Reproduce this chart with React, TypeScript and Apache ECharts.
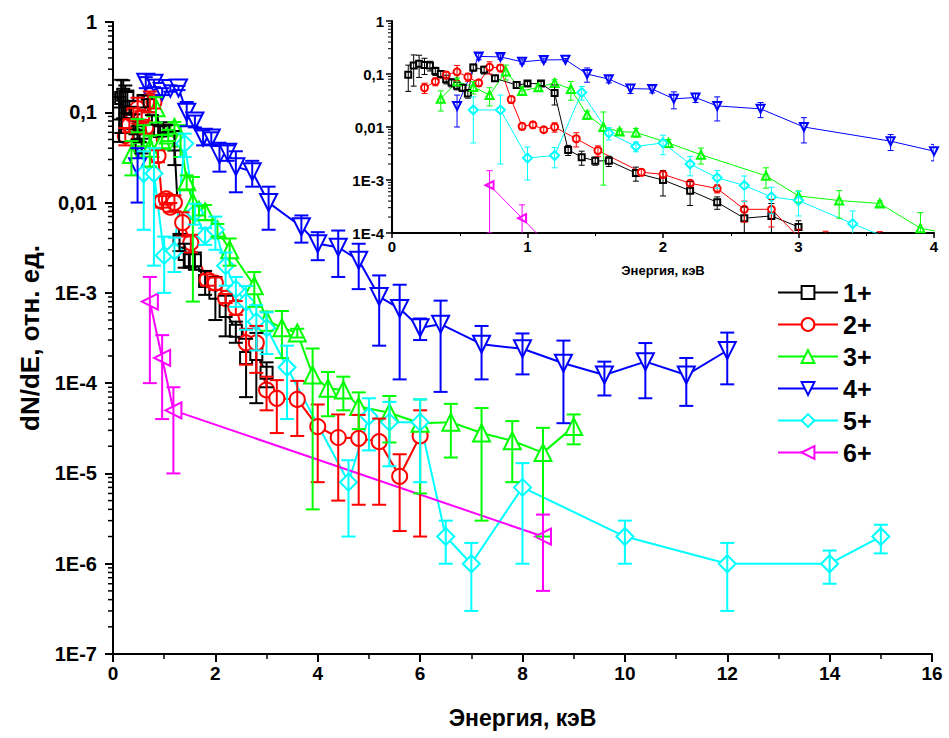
import React, { useEffect, useRef } from 'react';
import * as echarts from 'echarts';

// ---------- data ----------
const names = ['1+', '2+', '3+', '4+', '5+', '6+'];

const x1 = [0.12, 0.16, 0.2, 0.24, 0.28, 0.32, 0.36, 0.4, 0.44, 0.48, 0.52, 0.56, 0.6, 0.68, 0.76, 0.92, 1.0, 1.1, 1.2, 1.3, 1.4, 1.5, 1.6, 1.8, 2.0, 2.2, 2.4, 2.6, 2.8, 3.0];
const y1 = [0.097, 0.144, 0.156, 0.148, 0.144, 0.114, 0.1, 0.08, 0.069, 0.06, 0.055, 0.043, 0.133, 0.12, 0.083, 0.062, 0.066, 0.066, 0.044, 0.0037, 0.0027, 0.0023, 0.0023, 0.00135, 0.001, 0.00063, 0.00038, 0.00019, 0.00021, 0.00013];
const err1 = [0.05, 0.085, 0.07, 0.05, 0.03, 0.02, 0.015, 0.015, 0.012, 0.01, 0.008, 0.008, 0.02, 0.02, 0.01, 0.008, 0.006, 0.006, 0.018, 0.0008, 0.0008, 0.0004, 0.0005, 0.0004, 0.0005, 0.0003, 0.0001, 0.00012, 0.00015, 0.00004];

const x2 = [0.24, 0.32, 0.4, 0.48, 0.56, 0.64, 0.72, 0.8, 0.88, 0.96, 1.04, 1.12, 1.2, 1.36, 1.52, 1.84, 2.0, 2.2, 2.4, 2.6, 2.8, 3.0, 3.2, 3.6, 4.0, 4.4, 4.8, 5.2, 5.6, 6.0];
const y2 = [0.055, 0.072, 0.096, 0.11, 0.088, 0.068, 0.135, 0.13, 0.033, 0.0103, 0.011, 0.0089, 0.01, 0.006, 0.0036, 0.0014, 0.00128, 0.00087, 0.00069, 0.00028, 0.00028, 8.4e-5, 6.8e-5, 6.6e-5, 3.3e-5, 2.5e-5, 2.45e-5, 2.25e-5, 9.3e-6, 2.6e-5];
const err2 = [0.012, 0.012, 0.015, 0.035, 0.015, 0.01, 0.035, 0.02, 0.005, 0.0015, 0.0015, 0.001, 0.002, 0.0018, 0.0008, 0.0002, 0.0002, 0.0001, 0.00012, 0.00012, 0.00015, 3.4e-5, 4e-5, 4e-5, 2.5e-5, 2e-5, 2e-5, 1.8e-5, 7e-6, 2.4e-5];

const x3 = [0.36, 0.48, 0.6, 0.72, 0.84, 0.96, 1.08, 1.2, 1.32, 1.44, 1.56, 1.68, 1.8, 2.04, 2.28, 2.76, 3.0, 3.3, 3.6, 3.9, 4.2, 4.5, 4.8, 5.4, 6.0, 6.6, 7.2, 7.8, 8.4, 9.0];
const y3 = [0.034, 0.072, 0.057, 0.04, 0.112, 0.048, 0.056, 0.068, 0.052, 0.017, 0.01, 0.0082, 0.0079, 0.005, 0.003, 0.0012, 0.0005, 0.00041, 0.00036, 0.000123, 8.8e-5, 8.4e-5, 5.5e-5, 4.7e-5, 3.6e-5, 3.7e-5, 2.8e-5, 2.3e-5, 1.7e-5, 3.3e-5];
const err3 = [0.014, 0.012, 0.015, 0.015, 0.035, 0.008, 0.008, 0.01, 0.02, 0.003, 0.0092, 0.001, 0.0015, 0.0008, 0.001, 0.0005, 0.00012, 0.00022, 0.00004, 0.000119, 4.5e-5, 3.4e-5, 2.4e-5, 2.5e-5, 3.0e-5, 2.2e-5, 2.5e-5, 1.5e-5, 1.5e-5, 1.2e-5];

const x4 = [0.48, 0.64, 0.8, 0.96, 1.12, 1.28, 1.44, 1.6, 1.76, 1.92, 2.08, 2.24, 2.4, 2.72, 3.04, 3.68, 4.0, 4.4, 4.8, 5.2, 5.6, 6.0, 6.4, 7.2, 8.0, 8.8, 9.6, 10.4, 11.2, 12.0];
const y4 = [0.025, 0.215, 0.21, 0.17, 0.184, 0.186, 0.1, 0.08, 0.053, 0.052, 0.034, 0.036, 0.025, 0.022, 0.01, 0.0054, 0.0035, 0.0032, 0.0023, 9.1e-4, 6.7e-4, 4.1e-4, 4.5e-4, 2.7e-4, 2.4e-4, 1.66e-4, 1.23e-4, 1.73e-4, 1.23e-4, 2.3e-4];
const err4 = [0.015, 0.03, 0.02, 0.015, 0.015, 0.01, 0.03, 0.012, 0.01, 0.008, 0.012, 0.007, 0.012, 0.007, 0.005, 0.0018, 0.0012, 0.0017, 0.0012, 6.5e-4, 5.6e-4, 1.1e-4, 3.7e-4, 1.6e-4, 1.15e-4, 1.3e-4, 5e-5, 1.05e-4, 6.7e-5, 1.33e-4];

const x5 = [0.6, 0.8, 1.0, 1.2, 1.4, 1.6, 1.8, 2.0, 2.2, 2.4, 2.6, 2.8, 3.0, 3.4, 4.6, 5.0, 5.4, 6.0, 6.5, 7.0, 8.0, 10.0, 12.0, 14.0, 15.0];
const y5 = [0.021, 0.021, 0.0026, 0.0029, 0.045, 0.0077, 0.0043, 0.005, 0.002, 0.0011, 0.00079, 0.00048, 0.00041, 0.00015, 8e-6, 4.3e-5, 3.7e-5, 3.7e-5, 2e-6, 1e-6, 7e-6, 2e-6, 1e-6, 1e-6, 2e-6];
const err5 = [0.016, 0.019, 0.0016, 0.0012, 0.013, 0.002, 0.0009, 0.002, 0.0008, 0.0004, 0.0004, 0.00025, 0.0002, 0.00011, 6e-6, 2.5e-5, 2.5e-5, 2.9e-5, 1e-6, 7e-7, 6e-6, 1e-6, 7e-7, 4e-7, 7e-7];

const x6 = [0.72, 0.96, 1.18, 8.4];
const y6 = [8e-4, 1.9e-4, 5e-5, 2e-6];
const err6 = [7e-4, 1.5e-4, 4e-5, 1.5e-6];

const mainXTicks = [0, 2, 4, 6, 8, 10, 12, 14, 16];
const xTitle = 'Энергия, кэВ';
const yTitle = 'dN/dE, отн. ед.';

// ---------- styling ----------
const FONT = '"Liberation Sans", Arial, Helvetica, sans-serif';
const STYLES = [
  { color: '#000000', symbol: 'emptyRect', rot: 0, big: 12, small: 6 },
  { color: '#ff0000', symbol: 'emptyCircle', rot: 0, big: 15, small: 7 },
  { color: '#00ff00', symbol: 'emptyTriangle', rot: 0, big: 17, small: 8 },
  { color: '#0000ff', symbol: 'emptyTriangle', rot: 180, big: 17, small: 8 },
  { color: '#00ffff', symbol: 'emptyDiamond', rot: 0, big: 17, small: 9 },
  { color: '#ff00ff', symbol: 'emptyTriangle', rot: 90, big: 16, small: 8 },
];
const XS = [x1, x2, x3, x4, x5, x6];
const YS = [y1, y2, y3, y4, y5, y6];
const ES = [err1, err2, err3, err4, err5, err6];

function yLabel(v: number): string {
  const e = Math.round(Math.log10(v));
  if (e === 0) return '1';
  if (e === -1) return '0,1';
  if (e === -2) return '0,01';
  return '1E' + e;
}

function minorLogValues(fromExp: number, toExp: number): number[] {
  const out: number[] = [];
  for (let e = fromExp; e < toExp; e++) {
    for (let k = 2; k <= 9; k++) out.push(k * Math.pow(10, e));
  }
  return out;
}

function buildOption() {
  const series: any[] = [];
  const grids = [
    { gi: 0, sizeKey: 'big', lw: 2, cap: 7, z: 2 },
    { gi: 1, sizeKey: 'small', lw: 1, cap: 3, z: 2 },
  ];
  grids.forEach((g) => {
    for (let s = 0; s < 6; s++) {
      const st: any = STYLES[s];
      const xs = XS[s], ys = YS[s], es = ES[s];
      series.push({
        type: 'line',
        name: names[s],
        xAxisIndex: g.gi,
        yAxisIndex: g.gi,
        data: xs.map((x, i) => [x, ys[i]]),
        symbol: st.symbol,
        symbolSize: st[g.sizeKey],
        symbolRotate: st.rot,
        showAllSymbol: true,
        clip: true,
        lineStyle: { color: st.color, width: g.lw },
        itemStyle: { color: st.color, borderWidth: g.lw },
        emphasis: { disabled: true },
        z: g.z,
      });
      series.push({
        type: 'custom',
        name: 'err' + names[s] + g.gi,
        xAxisIndex: g.gi,
        yAxisIndex: g.gi,
        clip: true,
        z: g.z + 1,
        silent: true,
        encode: { x: 0, y: [1, 2] },
        data: xs.map((x, i) => [x, Math.max(ys[i] - es[i], 1e-10), ys[i] + es[i]]),
        renderItem: (params: any, api: any) => {
          const x = api.value(0);
          const lo = api.coord([x, api.value(1)]);
          const hi = api.coord([x, api.value(2)]);
          const style = { stroke: st.color, lineWidth: g.lw, fill: 'none' };
          return {
            type: 'group',
            children: [
              { type: 'line', shape: { x1: lo[0], y1: lo[1], x2: hi[0], y2: hi[1] }, style },
              { type: 'line', shape: { x1: hi[0] - g.cap, y1: hi[1], x2: hi[0] + g.cap, y2: hi[1] }, style },
              { type: 'line', shape: { x1: lo[0] - g.cap, y1: lo[1], x2: lo[0] + g.cap, y2: lo[1] }, style },
            ],
          };
        },
      });
    }
  });

  // minor log ticks (drawn as custom marks at the left axis)
  const minorDefs = [
    { gi: 0, vals: minorLogValues(-7, 0), len: 5, lw: 1.5 },
    { gi: 1, vals: minorLogValues(-4, 0), len: 4, lw: 1 },
  ];
  minorDefs.forEach((m) => {
    series.push({
      type: 'custom',
      name: 'minor' + m.gi,
      xAxisIndex: m.gi,
      yAxisIndex: m.gi,
      clip: false,
      silent: true,
      z: 5,
      data: m.vals.map((v) => [0, v]),
      renderItem: (params: any, api: any) => {
        const p = api.coord([0, api.value(1)]);
        return {
          type: 'line',
          shape: { x1: p[0] - m.len, y1: p[1], x2: p[0], y2: p[1] },
          style: { stroke: '#000', lineWidth: m.lw },
        };
      },
    });
  });

  const axisLine = (w: number) => ({ show: true, onZero: false, lineStyle: { color: '#000', width: w } });

  return {
    animation: false,
    backgroundColor: '#ffffff',
    grid: [
      { left: 113, top: 22, width: 819, height: 632 },
      { left: 392, top: 21, width: 542, height: 212 },
    ],
    legend: {
      data: names,
      orient: 'vertical',
      left: 772,
      top: 275,
      itemWidth: 60,
      itemHeight: 16,
      itemGap: 7,
      selectedMode: false,
      textStyle: { fontSize: 25, fontWeight: 'bold', color: '#000', fontFamily: FONT },
    },
    xAxis: [
      {
        type: 'value', gridIndex: 0, min: 0, max: 16, interval: 2,
        axisLine: axisLine(2),
        axisTick: { show: true, length: 8, lineStyle: { width: 2, color: '#000' } },
        minorTick: { show: true, splitNumber: 2, length: 5, lineStyle: { width: 1.5, color: '#000' } },
        splitLine: { show: false },
        axisLabel: {
          fontSize: 19, fontWeight: 'bold', color: '#000', fontFamily: FONT, margin: 10,
          customValues: mainXTicks, formatter: (v: number) => String(v),
        },
        name: xTitle, nameLocation: 'middle', nameGap: 52,
        nameTextStyle: { fontSize: 23, fontWeight: 'bold', color: '#000', fontFamily: FONT },
      },
      {
        type: 'value', gridIndex: 1, min: 0, max: 4, interval: 1,
        axisLine: axisLine(2),
        axisTick: { show: true, length: 5, lineStyle: { width: 1.5, color: '#000' } },
        minorTick: { show: true, splitNumber: 2, length: 3, lineStyle: { width: 1, color: '#000' } },
        splitLine: { show: false },
        axisLabel: {
          fontSize: 15, fontWeight: 'bold', color: '#000', fontFamily: FONT, margin: 6,
          formatter: (v: number) => String(v),
        },
        name: xTitle, nameLocation: 'middle', nameGap: 31,
        nameTextStyle: { fontSize: 13, fontWeight: 'bold', color: '#000', fontFamily: FONT },
      },
    ],
    yAxis: [
      {
        type: 'log', logBase: 10, gridIndex: 0, min: 1e-7, max: 1, splitNumber: 7,
        axisLine: axisLine(2),
        axisTick: { show: true, length: 8, lineStyle: { width: 2, color: '#000' } },
        splitLine: { show: false },
        axisLabel: { fontSize: 20, fontWeight: 'bold', color: '#000', fontFamily: FONT, margin: 16, formatter: yLabel },
        name: yTitle, nameLocation: 'middle', nameGap: 70, nameRotate: 90,
        nameTextStyle: { fontSize: 26, fontWeight: 'bold', color: '#000', fontFamily: FONT },
      },
      {
        type: 'log', logBase: 10, gridIndex: 1, min: 1e-4, max: 1, splitNumber: 4,
        axisLine: axisLine(2),
        axisTick: { show: true, length: 6, lineStyle: { width: 1.5, color: '#000' } },
        splitLine: { show: false },
        axisLabel: { fontSize: 15, fontWeight: 'bold', color: '#000', fontFamily: FONT, margin: 8, formatter: yLabel },
      },
    ],
    series,
  };
}

export default function App() {
  const ref = useRef<HTMLDivElement>(null);
  useEffect(() => {
    if (!ref.current) return;
    const chart = echarts.init(ref.current, undefined, { renderer: 'svg' });
    chart.setOption(buildOption() as any);
    return () => chart.dispose();
  }, []);
  return <div ref={ref} style={{ width: 949, height: 738, position: 'absolute', left: 0, top: 0 }} />;
}
